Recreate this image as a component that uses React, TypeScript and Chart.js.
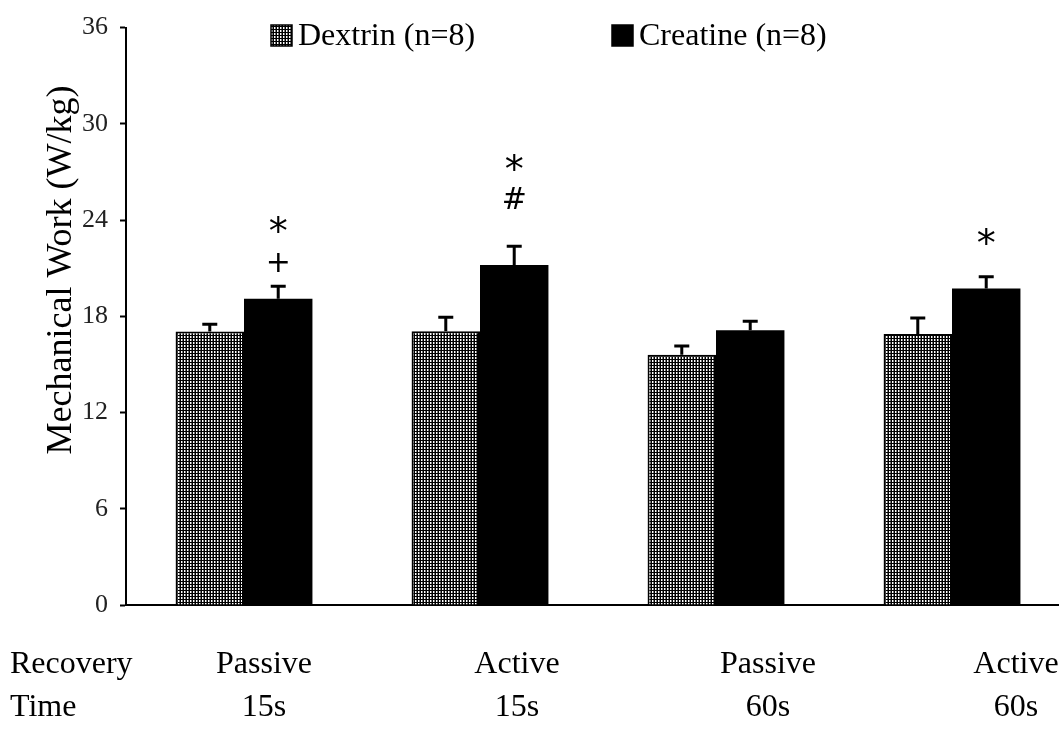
import React, { useEffect, useRef } from "react";
import { Chart, registerables } from "chart.js";

Chart.register(...registerables);

// ---------------- data ----------------
const categories = ["Passive 15s", "Active 15s", "Passive 60s", "Active 60s"];
const recoveryLabels = ["Passive", "Active", "Passive", "Active"];
const timeLabels = ["15s", "15s", "60s", "60s"];
const seriesNames = ["Dextrin (n=8)", "Creatine (n=8)"];
const dextrinValues = [17.05, 17.07, 15.6, 16.9];
const dextrinErrors = [0.45, 0.87, 0.55, 1.0];
const creatineValues = [19.1, 21.2, 17.13, 19.73];
const creatineErrors = [0.77, 1.17, 0.56, 0.74];
const yMin = 0;
const yMax = 36;
const yStep = 6;
const yTitle = "Mechanical Work (W/kg)";
const rowTitles = ["Recovery", "Time"];
// significance marks above the Creatine bars (group index, symbol, value level)
const annotationGroups = [0, 0, 1, 1, 3];
const annotationTexts = ["+", "*", "#", "*", "*"];
const annotationLevels = [21.4, 23.75, 25.36, 27.65, 23.0];

// ---------------- layout ----------------
const CANVAS_W = 1070;
const CANVAS_H = 748;
const SERIF = "'Liberation Serif', 'Times New Roman', serif";
const LABEL_CENTERS = [264, 517, 768, 1016];

function makePattern(): CanvasPattern | string {
  const c = document.createElement("canvas");
  c.width = 3;
  c.height = 3;
  const p = c.getContext("2d");
  if (!p) return "#555";
  p.fillStyle = "#000";
  p.fillRect(0, 0, 3, 3);
  p.fillStyle = "#ffffff";
  p.fillRect(1, 0, 1, 2);
  p.fillStyle = "#7a7a7a";
  p.fillRect(2, 0, 1, 2);
  const main = document.createElement("canvas").getContext("2d");
  return (main && main.createPattern(c, "repeat")) || "#555";
}

export default function App() {
  const ref = useRef<HTMLCanvasElement | null>(null);

  useEffect(() => {
    if (!ref.current) return;
    const pattern = makePattern();
    const errors = [dextrinErrors, creatineErrors];
    const values = [dextrinValues, creatineValues];

    const errorBars = {
      id: "errorBars",
      afterDatasetsDraw(chart: any) {
        const ctx = chart.ctx;
        const yScale = chart.scales.y;
        ctx.save();
        ctx.strokeStyle = "#000";
        ctx.lineWidth = 3;
        for (let d = 0; d < 2; d++) {
          const meta = chart.getDatasetMeta(d);
          meta.data.forEach((bar: any, i: number) => {
            const x = bar.x;
            const yb = bar.y;
            const yt = yScale.getPixelForValue(values[d][i] + errors[d][i]);
            ctx.beginPath();
            ctx.moveTo(x, yb);
            ctx.lineTo(x, yt);
            ctx.moveTo(x - 7.5, yt);
            ctx.lineTo(x + 7.5, yt);
            ctx.stroke();
          });
        }
        // significance marks
        const cmeta = chart.getDatasetMeta(1);
        ctx.fillStyle = "#000";
        ctx.textAlign = "center";
        ctx.textBaseline = "alphabetic";
        annotationTexts.forEach((t, k) => {
          const bar: any = cmeta.data[annotationGroups[k]];
          const y = yScale.getPixelForValue(annotationLevels[k]);
          ctx.font = t === "*" ? "38px 'DejaVu Sans', sans-serif" : "30px 'DejaVu Sans', sans-serif";
          const m = ctx.measureText(t);
          const off = (m.actualBoundingBoxAscent - m.actualBoundingBoxDescent) / 2;
          ctx.fillText(t, bar.x, y + off);
        });
        ctx.restore();
      },
    };

    const decorations = {
      id: "decorations",
      afterDraw(chart: any) {
        const ctx = chart.ctx;
        ctx.save();
        ctx.fillStyle = "#000";
        // y title
        ctx.font = `36px ${SERIF}`;
        ctx.translate(62, 270);
        ctx.rotate(-Math.PI / 2);
        ctx.textAlign = "center";
        ctx.textBaseline = "middle";
        ctx.fillText(yTitle, 0, 0);
        ctx.setTransform(1, 0, 0, 1, 0, 0);

        // legend
        const fills = [pattern, "#000"];
        const boxX = [271, 612];
        ctx.font = `32px ${SERIF}`;
        ctx.textAlign = "left";
        ctx.textBaseline = "middle";
        seriesNames.forEach((name, i) => {
          ctx.fillStyle = fills[i] as any;
          ctx.fillRect(boxX[i], 25, 21, 21);
          ctx.strokeStyle = "#000";
          ctx.lineWidth = 1.5;
          ctx.strokeRect(boxX[i], 25, 21, 21);
          ctx.fillStyle = "#000";
          ctx.fillText(name, boxX[i] + 27, 37);
        });

        // bottom labels
        ctx.font = `32px ${SERIF}`;
        ctx.textBaseline = "alphabetic";
        ctx.textAlign = "left";
        ctx.fillText(rowTitles[0], 10, 673);
        ctx.fillText(rowTitles[1], 10, 716);
        ctx.textAlign = "center";
        recoveryLabels.forEach((t, i) => ctx.fillText(t, LABEL_CENTERS[i], 673));
        timeLabels.forEach((t, i) => ctx.fillText(t, LABEL_CENTERS[i], 716));
        ctx.restore();
      },
    };

    const chart = new Chart(ref.current, {
      type: "bar",
      data: {
        labels: categories,
        datasets: [
          {
            label: seriesNames[0],
            data: dextrinValues,
            backgroundColor: pattern as any,
            borderColor: "#000",
            borderWidth: 2,
            categoryPercentage: 0.58,
            barPercentage: 1.0,
          },
          {
            label: seriesNames[1],
            data: creatineValues,
            backgroundColor: "#000",
            borderColor: "#000",
            borderWidth: 0,
            categoryPercentage: 0.58,
            barPercentage: 1.0,
          },
        ],
      },
      options: {
        responsive: false,
        maintainAspectRatio: false,
        animation: false,
        devicePixelRatio: 1,
        layout: { padding: { left: 0, right: 0, top: 23, bottom: 143 } },
        plugins: {
          legend: { display: false },
          tooltip: { enabled: false },
          title: { display: false },
        },
        scales: {
          x: {
            type: "category",
            grid: { display: false },
            ticks: { display: false },
            border: { display: true, color: "#000", width: 2 },
            afterFit: (s: any) => {
              s.height = 0;
            },
          },
          y: {
            min: yMin,
            max: yMax,
            ticks: {
              stepSize: yStep,
              color: "#222",
              padding: 12,
              font: { family: SERIF, size: 26 },
            },
            grid: {
              drawOnChartArea: false,
              drawTicks: true,
              tickLength: 6,
              tickColor: "#000",
              tickWidth: 2,
            },
            border: { display: true, color: "#000", width: 2 },
            afterFit: (s: any) => {
              s.width = 126;
            },
          },
        },
      },
      plugins: [errorBars, decorations],
    });
    return () => chart.destroy();
  }, []);

  return (
    <div
      style={{
        position: "fixed",
        left: 0,
        top: 0,
        width: 1059,
        height: 748,
        overflow: "hidden",
        background: "#fff",
      }}
    >
      <canvas ref={ref} width={CANVAS_W} height={CANVAS_H} style={{ display: "block" }} />
    </div>
  );
}
